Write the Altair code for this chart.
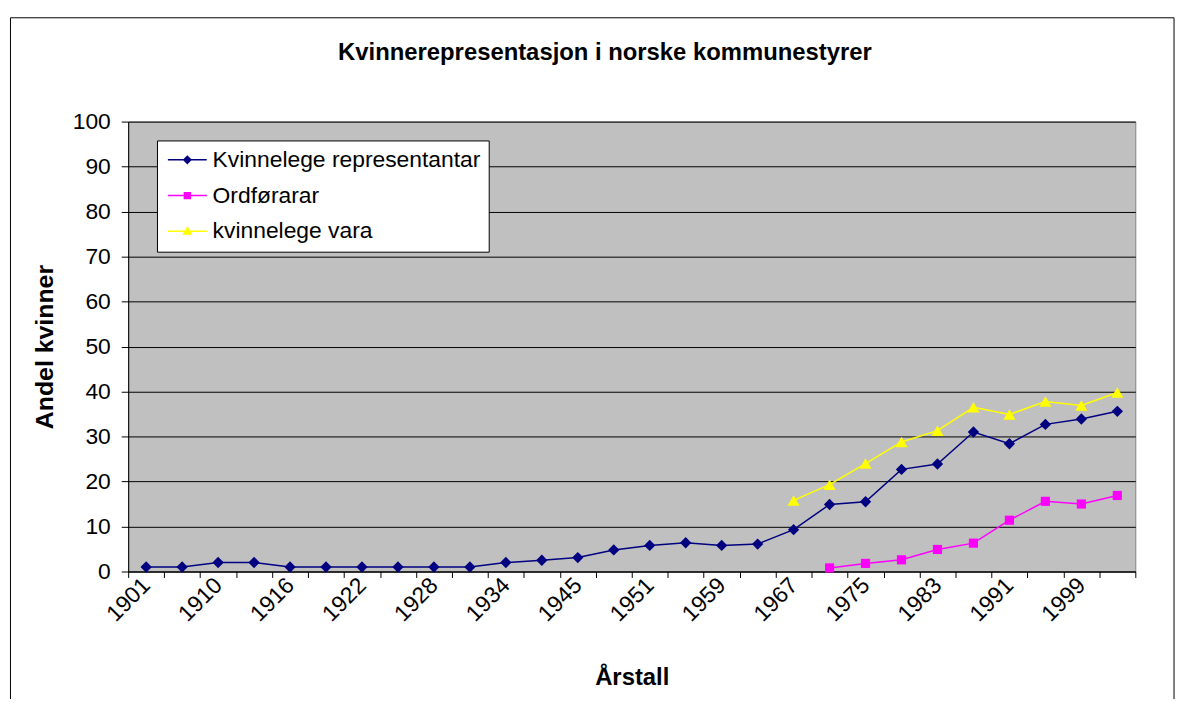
import altair as alt
import pandas as pd

years = ['1901', '1907', '1910', '1913', '1916', '1919', '1922', '1925', '1928', '1931',
         '1934', '1937', '1945', '1947', '1951', '1955', '1959', '1963', '1967', '1971',
         '1975', '1979', '1983', '1987', '1991', '1995', '1999', '2003']

tick_labels = ['1901', '1910', '1916', '1922', '1928', '1934', '1945', '1951', '1959',
               '1967', '1975', '1983', '1991', '1999']

series_names = ['Kvinnelege representantar', 'Ordførarar', 'kvinnelege vara']
series_colors = ['#000080', '#FF00FF', '#FFFF00']

representantar = [1, 1, 2, 2, 1, 1, 1, 1, 1, 1,
                  2, 2.5, 3.1, 4.8, 5.8, 6.4, 5.8, 6.1, 9.3, 14.9,
                  15.5, 22.7, 23.9, 31.0, 28.4, 32.7, 33.9, 35.6]
ordforarar = [None] * 19 + [0.8, 1.8, 2.6, 4.9, 6.3, 11.4, 15.6, 15.0, 16.9]
vara = [None] * 18 + [15.8, 19.3, 24.0, 28.8, 31.3, 36.5, 34.9, 37.8, 36.9, 39.8]

rows = []
for name, vals in zip(series_names, [representantar, ordforarar, vara]):
    for y, v in zip(years, vals):
        if v is not None:
            rows.append({'year': y, 'series': name, 'value': v})
df = pd.DataFrame(rows)

FONT = 'Liberation Sans'
FS = 23

label_expr = "indexof([" + ",".join("'%s'" % t for t in tick_labels) + "], datum.label) >= 0 ? datum.label : ''"

x_enc = alt.X(
    'year:N', sort=years, title='Årstall',
    scale=alt.Scale(type='band', domain=years, paddingInner=0, paddingOuter=0),
    axis=alt.Axis(
        tickBand='extent', labelAngle=315, labelAlign='right', labelBaseline='middle',
        labelFontSize=FS, labelFont=FONT, labelColor='black', labelPadding=4,
        labelExpr=label_expr, labelOverlap=False,
        tickSize=6, tickColor='black', domainColor='black', domainWidth=1,
        titleFont=FONT, titleFontSize=24, titleFontWeight='bold', titleColor='black',
        titlePadding=40, grid=False,
    ),
)
y_enc = alt.Y(
    'value:Q', title='Andel kvinner',
    scale=alt.Scale(domain=[0, 100], nice=False, zero=True),
    axis=alt.Axis(
        values=list(range(0, 101, 10)), grid=True, gridColor='black', gridWidth=1,
        tickSize=7, tickColor='black', domainColor='black',
        labelFontSize=FS, labelFont=FONT, labelColor='black', labelPadding=11,
        titleFont=FONT, titleFontSize=25, titleFontWeight='bold', titleColor='black',
        titlePadding=15,
    ),
)

base = alt.Chart(df)

marker_shapes = ['diamond', 'square', 'triangle-up']
marker_sizes = [130, 85, 150]
layers = []
for name, col in zip(series_names, series_colors):
    layers.append(
        base.transform_filter(alt.datum.series == name)
        .mark_line(strokeWidth=1.5, color=col)
        .encode(x=x_enc, y=y_enc)
    )
for name, col, shp, sz in zip(series_names, series_colors, marker_shapes, marker_sizes):
    layers.append(
        base.transform_filter(alt.datum.series == name)
        .mark_point(filled=True, shape=shp, size=sz, opacity=1, strokeWidth=0, color=col)
        .encode(x=x_enc, y=y_enc)
    )

# legend symbols: a short line with the series marker in its middle
legend_paths = [
    'M-1,0L3.6,0M0.88,0L1.3,-0.42L1.72,0L1.3,0.42Z',
    'M-1,0L3.6,0M0.95,-0.35L1.65,-0.35L1.65,0.35L0.95,0.35Z',
    'M-1,0L3.6,0M1.3,-0.45L1.75,0.33L0.85,0.33Z',
]
legend = alt.Legend(
    title=None, orient='none', legendX=29, legendY=19,
    fillColor='white', strokeColor='black', padding=8,
    labelFont=FONT, labelFontSize=FS, labelColor='black', labelLimit=500,
    symbolSize=289, symbolStrokeWidth=1.5, symbolOpacity=1,
    labelOffset=25, rowPadding=12,
)
carrier = base.mark_point(filled=True, size=0, opacity=1).encode(
    x=x_enc, y=y_enc,
    fill=alt.Fill('series:N', scale=alt.Scale(domain=series_names, range=series_colors), legend=legend),
    stroke=alt.Stroke('series:N', scale=alt.Scale(domain=series_names, range=series_colors), legend=legend),
    shape=alt.Shape('series:N', scale=alt.Scale(domain=series_names, range=legend_paths), legend=legend),
)

frame = alt.Chart(pd.DataFrame({'a': [0]})).mark_rect(
    fill=None, stroke='black', strokeWidth=1
).encode(x=alt.value(-118.5), x2=alt.value(1053), y=alt.value(-104.5), y2=alt.value(640))

chart = alt.layer(frame, *layers, carrier).properties(
    width=1014, height=453,
    title=alt.TitleParams(
        'Kvinnerepresentasjon i norske kommunestyrer', font=FONT, fontSize=24,
        fontWeight='bold', color='black', anchor='middle', dx=-27, offset=0, dy=48,
    ),
    autosize=alt.AutoSizeParams(type='none'),
    padding={'left': 121, 'top': 112, 'right': 45, 'bottom': 126},
    background='white',
).configure_view(
    fill='#C0C0C0', stroke='#808080', strokeWidth=1
)

chart.save('out.html', embed_options={'renderer': 'svg', 'actions': False})
